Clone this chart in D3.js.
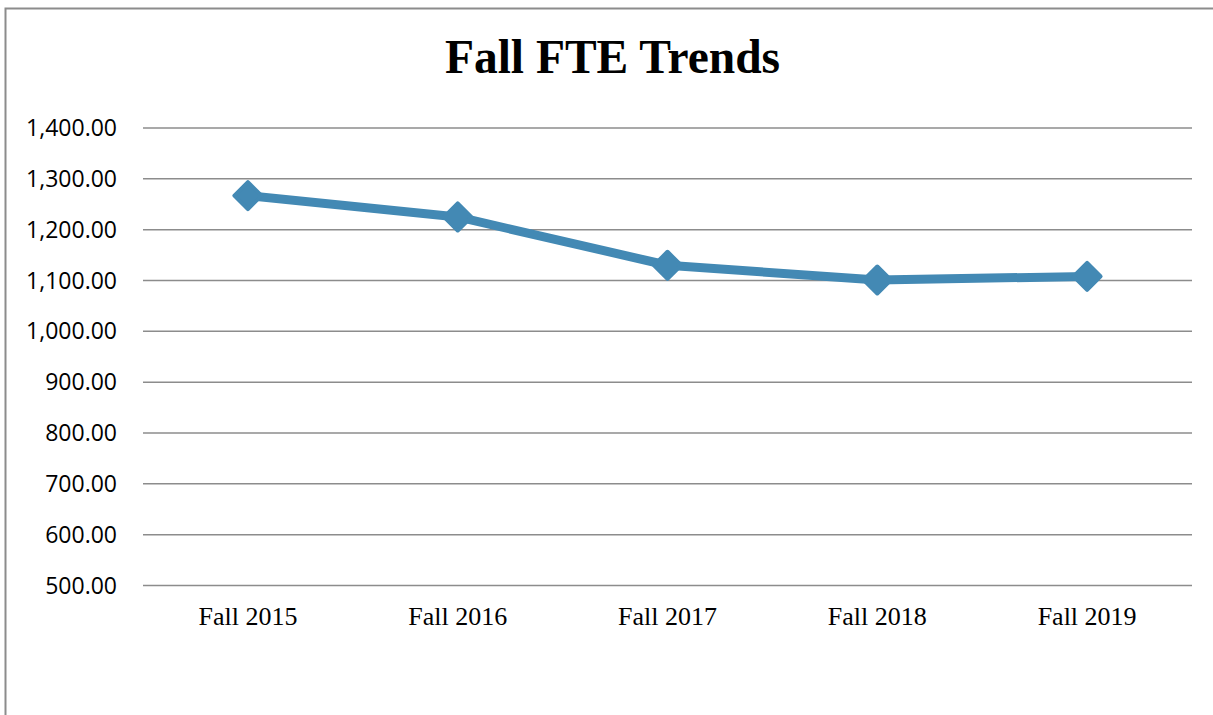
<!DOCTYPE html>
<html><head><meta charset="utf-8">
<script src="https://cdn.jsdelivr.net/npm/d3@7"></script>
<style>html,body{margin:0;padding:0;background:#fff;overflow:hidden}</style>
</head><body>
<svg id="c" width="1213" height="715"></svg>
<script>
const categories = ["Fall 2015","Fall 2016","Fall 2017","Fall 2018","Fall 2019"];
const fteValues = [1266, 1224, 1129, 1100, 1107];
const yTicks = [500,600,700,800,900,1000,1100,1200,1300,1400];
const title = "Fall FTE Trends";

(function(){
const svg = d3.select("#c");
svg.append("rect").attr("x",5.5).attr("y",8.5).attr("width",1240).attr("height",740)
  .attr("fill","none").attr("stroke","#8c8c8c").attr("stroke-width",2);

const pl=143, pr=1192, pt=127.5, pb=585;
const x = d3.scaleBand().domain(categories).range([pl,pr]);
const y = d3.scaleLinear().domain([500,1400]).range([pb,pt]);

svg.append("text").attr("x",612.5).attr("y",73).attr("text-anchor","middle")
  .attr("font-family","Liberation Serif").attr("font-weight","bold").attr("font-size",47.5)
  .text(title);

const yAxis = d3.axisLeft(y).tickValues(yTicks).tickSize(-(pr-pl)).tickPadding(26)
  .tickFormat(d3.format(",.2f"));
const gy = svg.append("g").attr("transform",`translate(${pl},0)`).call(yAxis);
gy.select(".domain").remove();
gy.selectAll(".tick line").attr("stroke","#8c8c8c").attr("stroke-width",1.5);
gy.selectAll(".tick text").attr("font-family","Open Sans").attr("font-size",23).attr("fill","#000").attr("dy","0.35em");

const xAxis = d3.axisBottom(x).tickSize(0).tickPadding(22);
const gx = svg.append("g").attr("transform",`translate(0,${pb})`).call(xAxis);
gx.select(".domain").remove();
gx.selectAll(".tick text").attr("font-family","Liberation Serif").attr("font-size",26).attr("fill","#000");

const color = "#4389b4";
const cx = d => x(d)+x.bandwidth()/2;
const line = d3.line().x((d,i)=>cx(categories[i])).y(d=>y(d));
svg.append("path").datum(fteValues).attr("d",line).attr("fill","none")
  .attr("stroke",color).attr("stroke-width",9).attr("stroke-linejoin","round");

svg.selectAll(".m").data(fteValues).enter().append("path")
  .attr("transform",(d,i)=>`translate(${cx(categories[i])},${y(d)})`)
  .attr("d","M0,-13.5L13.5,0L0,13.5L-13.5,0Z")
  .attr("fill",color).attr("stroke",color).attr("stroke-width",4).attr("stroke-linejoin","round");
})();
</script>
</body></html>
